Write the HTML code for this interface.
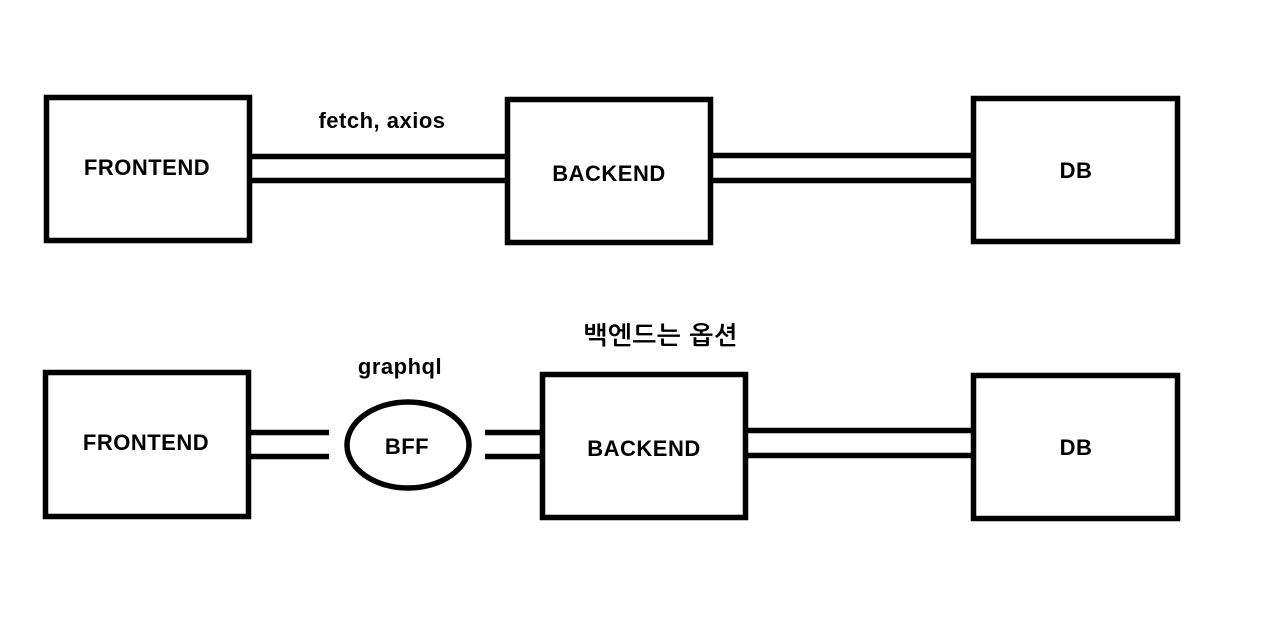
<!DOCTYPE html>
<html><head><meta charset="utf-8"><style>
html,body{margin:0;padding:0;background:#fff;}
svg{display:block;}
text{font-family:"Liberation Sans","NanumGothic","Noto Sans CJK KR",sans-serif;font-weight:bold;font-size:22px;fill:#000;text-anchor:middle;letter-spacing:0.5px;}
</style></head><body>
<svg width="1264" height="628" viewBox="0 0 1264 628" xmlns="http://www.w3.org/2000/svg">
<g fill="none" stroke="#000" stroke-width="5.5">
<rect x="46.5" y="97.5" width="203" height="143"/>
<rect x="507.5" y="99.5" width="203" height="143"/>
<rect x="973.5" y="98.5" width="204" height="143"/>
<line x1="252" y1="156.5" x2="510" y2="156.5"/>
<line x1="252" y1="180.5" x2="507" y2="180.5"/>
<line x1="710" y1="155.5" x2="975" y2="155.5"/>
<line x1="710" y1="180.5" x2="973" y2="180.5"/>
<rect x="45.5" y="372.5" width="203" height="144"/>
<ellipse cx="408" cy="445" rx="61" ry="43"/>
<rect x="542.5" y="374.5" width="203" height="143"/>
<rect x="973.5" y="375.5" width="204" height="143"/>
<line x1="251" y1="432.5" x2="329" y2="432.5"/>
<line x1="251" y1="456.5" x2="329" y2="456.5"/>
<line x1="485" y1="432.5" x2="545" y2="432.5"/>
<line x1="485" y1="456.5" x2="542" y2="456.5"/>
<line x1="745" y1="430.5" x2="973" y2="430.5"/>
<line x1="745" y1="455.5" x2="973" y2="455.5"/>
</g>
<text x="147" y="175">FRONTEND</text>
<text x="382" y="128">fetch, axios</text>
<text x="609" y="181">BACKEND</text>
<text x="1076" y="178">DB</text>
<text x="146" y="450">FRONTEND</text>
<text x="400" y="374">graphql</text>
<text x="407" y="454">BFF</text>
<text x="661" y="344" style="font-size:25px;letter-spacing:1px">백엔드는 옵션</text>
<text x="644" y="456">BACKEND</text>
<text x="1076" y="455">DB</text>
</svg>
</body></html>
